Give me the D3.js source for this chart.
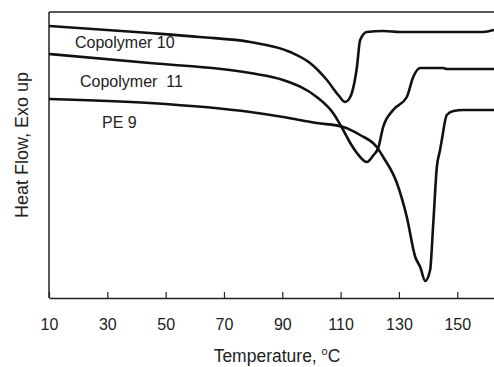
<!DOCTYPE html>
<html>
<head>
<meta charset="utf-8">
<script src="https://cdn.jsdelivr.net/npm/d3@7"></script>
<style>
  body { margin: 0; background: #fff; }
  text { font-family: "Liberation Sans", Arial, sans-serif; fill: #222; }
</style>
</head>
<body>
<div id="chart"></div>
<script>
// DSC traces (temperature in °C, heat flow in arbitrary units)
const tempTicks = [10, 30, 50, 70, 90, 110, 130, 150];

const copo10T = [10, 44.6, 61.8, 79.0, 92.7, 99.5, 105.3, 109.2, 111.5, 113.3, 115.6, 116.7, 119.0, 124.6, 130.4, 158.9, 162.6];
const copo10Q = [27.2, 26.5, 26.1, 25.6, 24.6, 23.5, 21.8, 20.3, 19.6, 20.1, 23.1, 25.8, 26.6, 26.7, 26.6, 26.6, 26.8];

const copo11T = [10, 44.6, 79.0, 90.3, 101.8, 107.4, 110.9, 113.3, 115.6, 119.0, 121.3, 122.9, 124.6, 128.0, 132.7, 134.9, 137.3, 145.2, 146.4, 162.6];
const copo11Q = [24.4, 23.5, 22.5, 21.8, 20.1, 18.5, 16.8, 15.5, 14.5, 13.6, 14.3, 15.0, 17.1, 18.8, 20.1, 22.1, 23.0, 23.0, 22.9, 22.9];

const pe9T = [10, 44.6, 79.0, 90.3, 101.8, 110.9, 116.7, 122.4, 124.6, 129.3, 132.7, 135.6, 137.3, 139.0, 140.7, 141.7, 143.0, 144.1, 144.7, 146.4, 148.7, 152.1, 162.6];
const pe9Q = [19.9, 19.5, 18.6, 18.1, 17.5, 17.1, 16.3, 15.1, 14.1, 11.5, 8.1, 4.1, 3.1, 1.7, 2.8, 7.1, 13.1, 14.8, 15.8, 18.3, 18.7, 18.8, 18.8];

const seriesNames = ['Copolymer 10', 'Copolymer  11', 'PE 9'];

const series = [
  { name: seriesNames[0], t: copo10T, q: copo10Q, lx: 75, ly: 48 },
  { name: seriesNames[1], t: copo11T, q: copo11Q, lx: 80, ly: 87 },
  { name: seriesNames[2], t: pe9T, q: pe9Q, lx: 102, ly: 128 }
];

const W = 494, H = 367;
const m = { left: 49, right: 494, top: 12, bottom: 298 };

const svg = d3.select('#chart').append('svg')
  .attr('width', W)
  .attr('height', H);

const x = d3.scaleLinear().domain([10, 162.6]).range([m.left, m.right]);
const y = d3.scaleLinear().domain([0, 28.6]).range([m.bottom, m.top]);

// Frame: top and left lines
svg.append('line')
  .attr('x1', m.left).attr('x2', m.right)
  .attr('y1', m.top).attr('y2', m.top)
  .attr('stroke', '#222').attr('stroke-width', 1.5);

svg.append('line')
  .attr('x1', m.left).attr('x2', m.left)
  .attr('y1', m.top).attr('y2', m.bottom)
  .attr('stroke', '#222').attr('stroke-width', 1.5);

// Bottom axis with inward ticks
const xAxis = svg.append('g')
  .attr('transform', `translate(0,${m.bottom})`)
  .call(d3.axisBottom(x)
    .tickValues(tempTicks)
    .tickFormat(d3.format('d'))
    .tickSizeInner(-6)
    .tickSizeOuter(0)
    .tickPadding(21));

xAxis.select('.domain')
  .attr('stroke', '#222')
  .attr('stroke-width', 1.5);
xAxis.selectAll('.tick line')
  .attr('stroke', '#222')
  .attr('stroke-width', 1.2);
xAxis.selectAll('.tick text')
  .style('font-size', '16px')
  .style('font-family', '"Liberation Sans", Arial, sans-serif')
  .attr('fill', '#222');

// Curves
const line = d3.line()
  .x(d => x(d[0]))
  .y(d => y(d[1]))
  .curve(d3.curveMonotoneX);

series.forEach(s => {
  const pts = s.t.map((t, i) => [t, s.q[i]]);
  svg.append('path')
    .datum(pts)
    .attr('fill', 'none')
    .attr('stroke', '#111')
    .attr('stroke-width', 2.6)
    .attr('stroke-linejoin', 'round')
    .attr('d', line);

  svg.append('text')
    .attr('x', s.lx)
    .attr('y', s.ly)
    .attr('xml:space', 'preserve')
    .style('white-space', 'pre')
    .style('font-size', '16px')
    .text(s.name);
});

// Axis titles
const xTitle = svg.append('text')
  .attr('x', 277)
  .attr('y', 362)
  .attr('text-anchor', 'middle')
  .style('font-size', '17.5px');
xTitle.append('tspan').text('Temperature, ');
xTitle.append('tspan').attr('dy', -7).style('font-size', '11px').text('o');
xTitle.append('tspan').attr('dy', 7).text('C');

svg.append('text')
  .attr('transform', 'translate(28,145) rotate(-90)')
  .attr('text-anchor', 'middle')
  .style('font-size', '18px')
  .text('Heat Flow, Exo up');
</script>
</body>
</html>
